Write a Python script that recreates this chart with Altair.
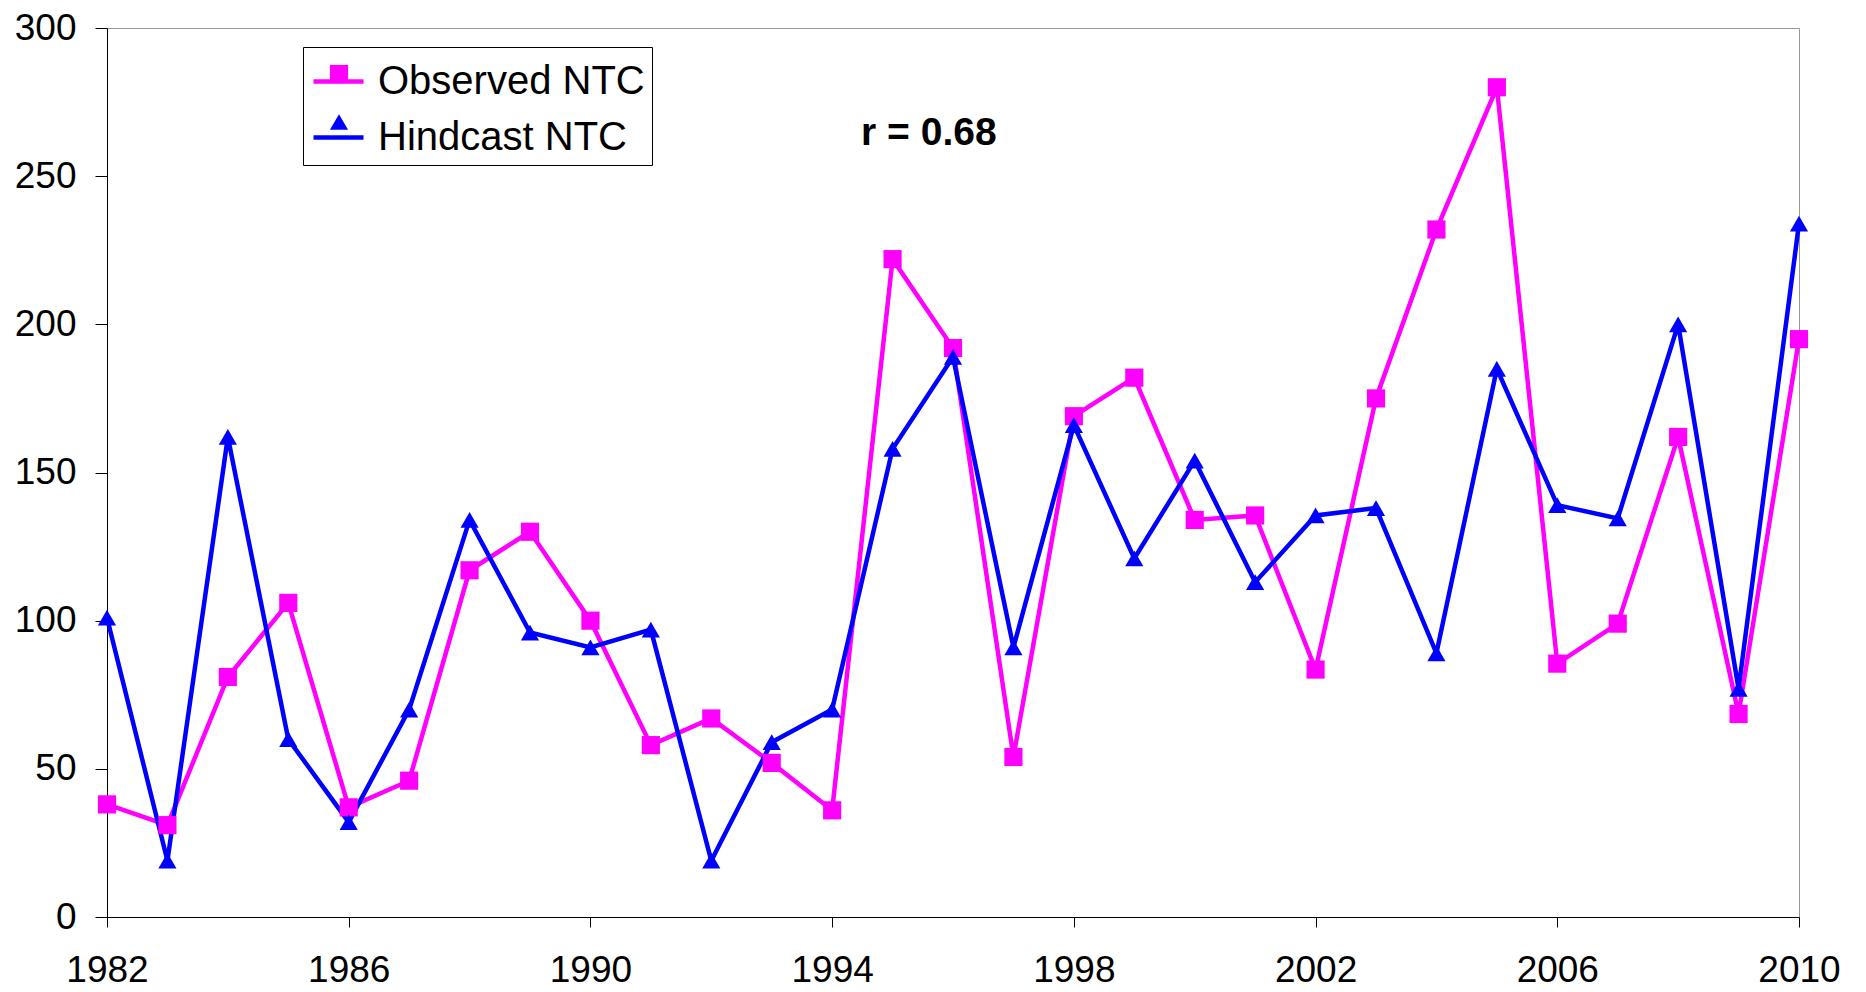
import altair as alt
import pandas as pd

# ---- data ----
years = list(range(1982, 2011))
observed = [38, 31, 81, 106, 37, 46, 117, 130, 100, 58, 67, 52, 36, 222, 192, 54,
            169, 182, 134, 135.5, 83.5, 175, 232, 280, 85.5, 99, 162, 68.5, 195]
hindcast = [101, 19, 162, 60, 32, 70, 134, 96, 91, 97, 19, 59, 70, 158, 189, 91,
            166, 121, 154, 113, 135.5, 138, 89, 185, 139, 134.5, 200, 77, 234]
series_names = ["Observed NTC", "Hindcast NTC"]
x_ticks = [1982, 1986, 1990, 1994, 1998, 2002, 2006, 2010]
y_ticks = [0, 50, 100, 150, 200, 250, 300]
annotation_text = ["r = 0.68"]

# ---- styles ----
series_colors = ["#FF00FF", "#0000FF"]
series_shapes = ["square", "triangle-up"]
FONT = "Liberation Sans"

df = pd.DataFrame({
    "year": years + years,
    "value": observed + hindcast,
    "series": [series_names[0]] * len(years) + [series_names[1]] * len(years),
})
ann = pd.DataFrame({"label": annotation_text})

x_enc = alt.X("year:Q",
              scale=alt.Scale(domain=[1982, 2010], nice=False, zero=False),
              axis=alt.Axis(values=x_ticks, format="d", title=None, grid=False,
                            labelFlush=False, labelOverlap=False,
                            tickSize=10, labelPadding=25))
y_enc = alt.Y("value:Q",
              scale=alt.Scale(domain=[0, 300], nice=False),
              axis=alt.Axis(values=y_ticks, title=None, grid=False,
                            tickSize=12, labelPadding=19))

LEG_X = 196
LEG_Y = 19
common = dict(title=None, orient="none", legendY=LEG_Y, labelFontSize=40,
              labelFont=FONT, rowPadding=8, padding=7, symbolOffset=1,
              labelLimit=600, labelOffset=12)

# line legend (line samples + labels, with the box)
lines = alt.Chart(df).mark_line(strokeWidth=4.5).encode(
    x=x_enc, y=y_enc,
    color=alt.Color("series:N",
                    scale=alt.Scale(domain=series_names, range=series_colors),
                    legend=alt.Legend(legendX=LEG_X, symbolType="stroke",
                                      symbolSize=2500, symbolStrokeWidth=4.5,
                                      strokeColor="black", labelColor="black",
                                      **common)),
)

# marker legend overlaid on the line samples (blank labels keep rows aligned)
legB = dict(legendX=LEG_X + 8, symbolSize=330, labelExpr="' '", **common)
points = alt.Chart(df).mark_point(filled=True, size=330, opacity=1).encode(
    x=x_enc, y=y_enc,
    color=alt.Color("series:N",
                    scale=alt.Scale(domain=series_names, range=series_colors),
                    legend=alt.Legend(**legB)),
    shape=alt.Shape("series:N",
                    scale=alt.Scale(domain=series_names, range=series_shapes),
                    legend=alt.Legend(**legB)),
)

text = alt.Chart(ann).mark_text(font=FONT, fontSize=39, fontWeight="bold",
                                align="center", baseline="middle",
                                color="black").encode(
    x=alt.datum(1995.6), y=alt.datum(264.6), text="label:N")

chart = alt.layer(lines, points, text).resolve_scale(
    color="independent", shape="independent"
).properties(
    width=1692, height=889,
    autosize=alt.AutoSizeParams(type="none"),
    padding={"left": 99, "top": 20, "right": 45, "bottom": 76},
).configure_view(
    stroke="#999999", strokeWidth=1
).configure_axis(
    labelFont=FONT, labelFontSize=37, labelColor="black",
    domainColor="black", domainWidth=1, tickColor="black", tickWidth=1,
)

chart.save("out.html", embed_options={"renderer": "svg", "actions": False})
